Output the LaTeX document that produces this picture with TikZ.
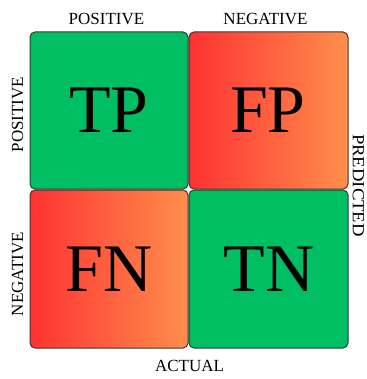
\documentclass[tikz,border=0pt]{standalone}
\usepackage{fontspec}
\setmainfont{Liberation Serif}
\definecolor{cgreen}{RGB}{0,190,98}
\definecolor{cred}{RGB}{255,50,50}
\definecolor{corange}{RGB}{255,142,76}
\definecolor{cedge}{RGB}{55,55,55}
\begin{document}
\begin{tikzpicture}[x=1pt,y=-1pt,
  cell/.style={draw=cedge,line width=1pt,rounded corners=5pt},
  good/.style={cell,fill=cgreen},
  bad/.style={cell,left color=cred,right color=corange},
  big/.style={font=\fontsize{68}{68}\selectfont,inner sep=0pt},
  lab/.style={font=\fontsize{17}{17}\selectfont,inner sep=0pt}]
\useasboundingbox (0,0) rectangle (366,379);
\path[good] (30,32) rectangle (188,189);
\path[bad] (189,32) rectangle (348,189);
\path[bad] (30,190) rectangle (188,348);
\path[good] (189,190) rectangle (348,348);
\node[big] (tp) at (109,110) {TP};
\node[big] (fp) at (268,110) {FP};
\node[big] (fn) at (109,269) {FN};
\node[big] (tn) at (269,269) {TN};
\node[lab] (cpos) at (106.5,19) {POSITIVE};
\node[lab] (cneg) at (265.5,19) {NEGATIVE};
\node[lab,rotate=90] (rpos) at (17.5,114.5) {POSITIVE};
\node[lab,rotate=90] (rneg) at (17.5,274) {NEGATIVE};
\node[lab,rotate=-90,xscale=1.1] (pred) at (358.5,185.5) {PREDICTED};
\node[lab] (act) at (189.5,365.5) {ACTUAL};
\end{tikzpicture}
\end{document}
